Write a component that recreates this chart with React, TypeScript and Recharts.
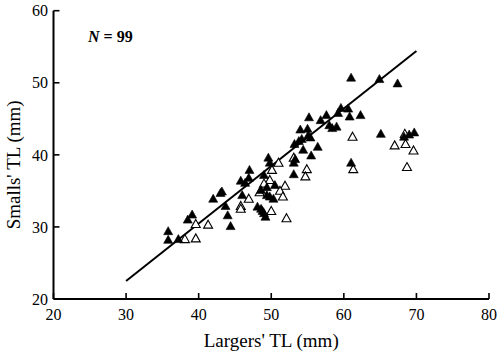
import React from 'react';
import { ScatterChart, Scatter, XAxis, YAxis, ReferenceLine, Customized, Label } from 'recharts';

const xTicks = [20, 30, 40, 50, 60, 70, 80];
const yTicks = [20, 30, 40, 50, 60];

const filledPoints = [
  { x: 61.0, y: 50.7 }, { x: 64.9, y: 50.5 }, { x: 67.4, y: 49.9 },
  { x: 60.6, y: 46.4 }, { x: 59.6, y: 46.5 }, { x: 59.2, y: 45.8 },
  { x: 60.8, y: 45.3 }, { x: 62.3, y: 45.5 }, { x: 55.2, y: 45.2 },
  { x: 57.6, y: 45.5 }, { x: 56.8, y: 44.8 }, { x: 58.0, y: 44.1 },
  { x: 58.4, y: 43.7 }, { x: 59.0, y: 43.9 }, { x: 54.0, y: 43.5 },
  { x: 55.0, y: 43.6 }, { x: 55.1, y: 42.7 }, { x: 55.4, y: 42.4 },
  { x: 54.2, y: 42.2 }, { x: 53.8, y: 41.9 }, { x: 53.2, y: 41.5 },
  { x: 56.4, y: 41.1 }, { x: 54.4, y: 40.7 }, { x: 55.5, y: 39.9 },
  { x: 65.1, y: 42.9 }, { x: 68.3, y: 42.5 }, { x: 69.0, y: 42.8 },
  { x: 69.7, y: 43.1 }, { x: 61.0, y: 38.9 }, { x: 49.6, y: 39.6 },
  { x: 49.8, y: 38.9 }, { x: 53.1, y: 38.9 }, { x: 53.3, y: 39.4 },
  { x: 53.1, y: 37.3 }, { x: 49.0, y: 37.2 }, { x: 47.0, y: 37.9 },
  { x: 46.9, y: 36.8 }, { x: 45.8, y: 36.4 }, { x: 46.4, y: 36.1 },
  { x: 50.5, y: 35.8 }, { x: 49.4, y: 35.5 }, { x: 48.6, y: 35.1 },
  { x: 46.0, y: 34.4 }, { x: 49.4, y: 34.4 }, { x: 49.8, y: 34.2 },
  { x: 50.3, y: 33.9 }, { x: 43.2, y: 34.9 }, { x: 43.0, y: 34.7 },
  { x: 42.0, y: 33.9 }, { x: 43.7, y: 32.9 }, { x: 44.0, y: 31.6 },
  { x: 44.4, y: 30.1 }, { x: 48.1, y: 32.8 }, { x: 48.6, y: 32.5 },
  { x: 48.8, y: 32.2 }, { x: 49.0, y: 31.9 }, { x: 49.2, y: 31.4 },
  { x: 39.1, y: 31.7 }, { x: 38.5, y: 31.0 }, { x: 35.8, y: 29.4 },
  { x: 35.8, y: 28.2 }, { x: 37.2, y: 28.3 },
];

const openPoints = [
  { x: 61.2, y: 42.5 }, { x: 67.0, y: 41.3 }, { x: 68.5, y: 41.5 },
  { x: 68.4, y: 42.9 }, { x: 69.6, y: 40.6 }, { x: 68.7, y: 38.3 },
  { x: 61.3, y: 38.0 }, { x: 54.9, y: 38.0 }, { x: 54.7, y: 37.0 },
  { x: 53.1, y: 39.6 }, { x: 51.0, y: 38.9 }, { x: 50.1, y: 37.9 },
  { x: 49.8, y: 36.5 }, { x: 49.0, y: 36.0 }, { x: 51.9, y: 35.7 },
  { x: 51.2, y: 35.0 }, { x: 51.6, y: 34.2 }, { x: 48.4, y: 34.8 },
  { x: 46.9, y: 33.9 }, { x: 45.8, y: 32.9 }, { x: 45.8, y: 32.5 },
  { x: 50.0, y: 32.2 }, { x: 52.1, y: 31.2 }, { x: 39.6, y: 30.4 },
  { x: 41.3, y: 30.3 }, { x: 39.6, y: 28.4 }, { x: 38.1, y: 28.3 },
];

const fitLine = [
  { x: 30, y: 22.5 },
  { x: 70, y: 54.4 },
];

const FONT = '"Liberation Serif", serif';

const triPoints = (cx: number, cy: number) =>
  `${cx},${cy - 4.6} ${cx + 4.5},${cy + 3.4} ${cx - 4.5},${cy + 3.4}`;

const FilledTri = (props: any) => (
  <polygon points={triPoints(props.cx, props.cy)} fill="#000" stroke="#000" strokeWidth={0.6} />
);
const OpenTri = (props: any) => (
  <polygon points={triPoints(props.cx, props.cy)} fill="#fff" stroke="#000" strokeWidth={1.1} />
);

const YLabel = (props: any) => {
  const vb = props.viewBox || { x: 0, y: 10.7, height: 288 };
  const cx = 14;
  const cy = vb.y + vb.height / 2 + 10;
  return (
    <text
      x={cx}
      y={cy}
      transform={`rotate(-90 ${cx} ${cy})`}
      textAnchor="middle"
      dominantBaseline="central"
      style={{ fontFamily: FONT, fontSize: 19 }}
      fill="#000"
    >
      Smalls' TL (mm)
    </text>
  );
};

const Annotation = () => (
  <text x={88} y={42} style={{ fontFamily: FONT, fontSize: 16, fontWeight: 'bold' }} fill="#000">
    <tspan style={{ fontStyle: 'italic' }}>N</tspan> = 99
  </text>
);

const tickStyle = { fontFamily: FONT, fontSize: 16, fill: '#000' };

export default function App() {
  return (
    <div style={{ position: 'absolute', left: 0, top: 0, width: 500, height: 353, background: '#fff' }}>
      <ScatterChart width={500} height={353} margin={{ top: 10.7, right: 11, bottom: 0, left: 0 }}>
        <XAxis
          type="number"
          dataKey="x"
          domain={[20, 80]}
          ticks={xTicks}
          interval={0}
          height={54}
          tickSize={-6}
          tickMargin={16}
          tickLine={{ stroke: '#000', strokeWidth: 1.6 }}
          tick={tickStyle}
          axisLine={{ stroke: '#000', strokeWidth: 2 }}
          label={{
            value: "Largers' TL (mm)",
            position: 'insideBottom',
            offset: 6,
            style: { fontFamily: FONT, fontSize: 19, fill: '#000' },
          }}
        />
        <YAxis
          type="number"
          dataKey="y"
          domain={[20, 60]}
          ticks={yTicks}
          interval={0}
          width={53.5}
          tickSize={-6}
          tickMargin={11.5}
          tickLine={{ stroke: '#000', strokeWidth: 1.6 }}
          tick={tickStyle}
          axisLine={{ stroke: '#000', strokeWidth: 2 }}
        >
          <Label content={<YLabel />} />
        </YAxis>
        <ReferenceLine
          segment={fitLine}
          stroke="#000"
          strokeWidth={2}
          ifOverflow="visible"
        />
        <Scatter data={openPoints} shape={<OpenTri />} isAnimationActive={false} />
        <Scatter data={filledPoints} shape={<FilledTri />} isAnimationActive={false} />
        <Customized component={Annotation} />
      </ScatterChart>
    </div>
  );
}
